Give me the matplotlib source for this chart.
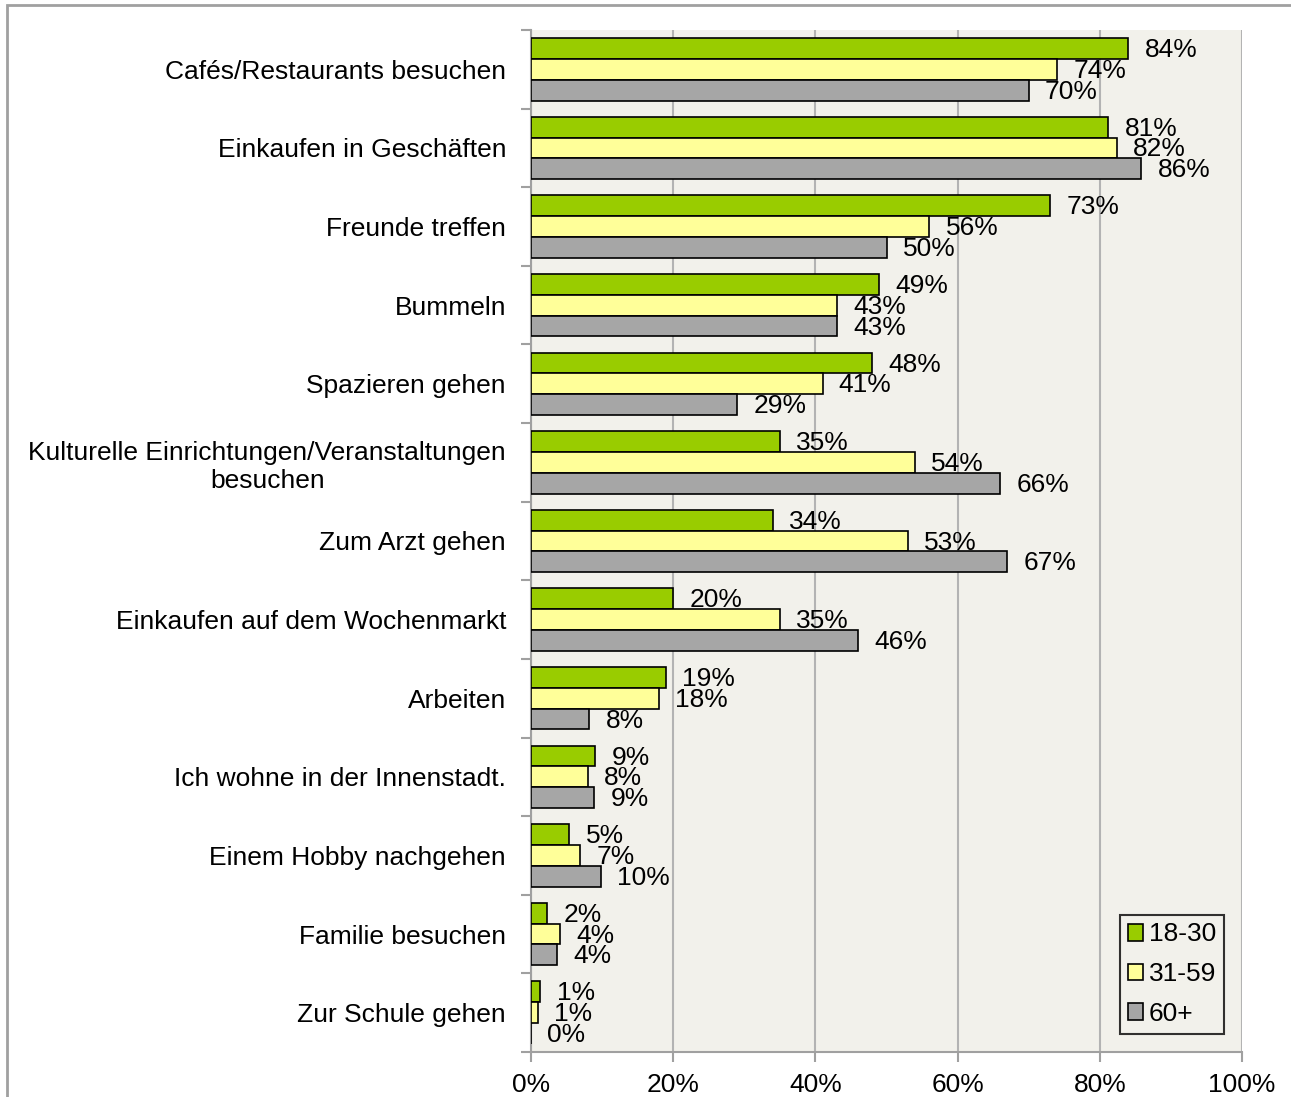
import matplotlib
matplotlib.use("Agg")
import matplotlib.pyplot as plt
from matplotlib.patches import Rectangle
from matplotlib.ticker import FixedLocator
import numpy as np

plt.rcParams['font.family'] = ['Liberation Sans', 'DejaVu Sans']

categories = [
    'Cafés/Restaurants besuchen',
    'Einkaufen in Geschäften',
    'Freunde treffen',
    'Bummeln',
    'Spazieren gehen',
    'Kulturelle Einrichtungen/Veranstaltungen\nbesuchen',
    'Zum Arzt gehen',
    'Einkaufen auf dem Wochenmarkt',
    'Arbeiten',
    'Ich wohne in der Innenstadt.',
    'Einem Hobby nachgehen',
    'Familie besuchen',
    'Zur Schule gehen',
]
age_18_30 = [84, 81.2, 73, 49, 48, 35, 34, 20, 19, 9, 5.4, 2.3, 1.3]
age_31_59 = [74, 82.4, 56, 43, 41, 54, 53, 35, 18, 8, 6.9, 4.1, 1.0]
age_60 = [70, 85.8, 50, 43, 29, 66, 67, 46, 8.2, 8.9, 9.8, 3.6, 0]
series_names = ['18-30', '31-59', '60+']
colors = ['#99CC00', '#FFFF99', '#A6A6A6']
x_ticks = [0, 20, 40, 60, 80, 100]

FS = 19

fig = plt.figure(figsize=(12.91, 10.97), dpi=100)
ax = fig.add_axes([531 / 1291, 1 - 1052 / 1097, 711 / 1291, 1022 / 1097])

# outer frame of the chart
fig.patches.append(Rectangle((7 / 1291, -0.1), 1.2, 1 - 5 / 1097 + 0.1,
                             transform=fig.transFigure, fill=False,
                             edgecolor='#A0A0A0', linewidth=2))

y = np.arange(len(categories))
h = 0.265
offset_x = 2.3
for i, (vals, name, c) in enumerate(zip([age_18_30, age_31_59, age_60], series_names, colors)):
    pos = y + (i - 1) * h
    ax.barh(pos, vals, height=h, color=c, edgecolor='black', linewidth=1.2,
            label=name, zorder=3)
    for p, v in zip(pos, vals):
        ax.text(v + offset_x, p + 0.02, f'{round(v):.0f}%', va='center', ha='left',
                fontsize=FS, zorder=4)

ax.set_facecolor('#F2F1EB')
ax.set_xlim(0, 100)
ax.set_ylim(len(categories) - 0.5, -0.5)

ax.set_xticks(x_ticks)
ax.set_xticklabels([f'{t}%' for t in x_ticks])
ax.grid(axis='x', color='#B3B3B3', linewidth=1.5, zorder=0)

ax.set_yticks(y)
ax.set_yticklabels(categories, ha='right', multialignment='center')
ax.yaxis.set_minor_locator(FixedLocator(np.arange(-0.5, len(categories), 1)))
ax.tick_params(axis='y', which='major', length=0, pad=18, labelsize=FS)
ax.tick_params(axis='y', which='minor', length=7, width=1.5, color='#A0A0A0')
ax.tick_params(axis='x', which='major', length=7, width=1.5, color='#A0A0A0',
               labelsize=FS, pad=8)

for s in ['top', 'right']:
    ax.spines[s].set_visible(False)
for s in ['left', 'bottom']:
    ax.spines[s].set_color('#A0A0A0')
    ax.spines[s].set_linewidth(1.5)

leg = ax.legend(loc='lower right', fontsize=FS, frameon=True, fancybox=False,
                handlelength=0.6, handleheight=0.6, handletextpad=0.2,
                labelspacing=0.6, borderpad=0.3, borderaxespad=0.68)
leg.get_frame().set_edgecolor('black')
leg.get_frame().set_linewidth(1.5)
leg.get_frame().set_facecolor('#F2F1EB')

fig.savefig('out.png', dpi=100)
